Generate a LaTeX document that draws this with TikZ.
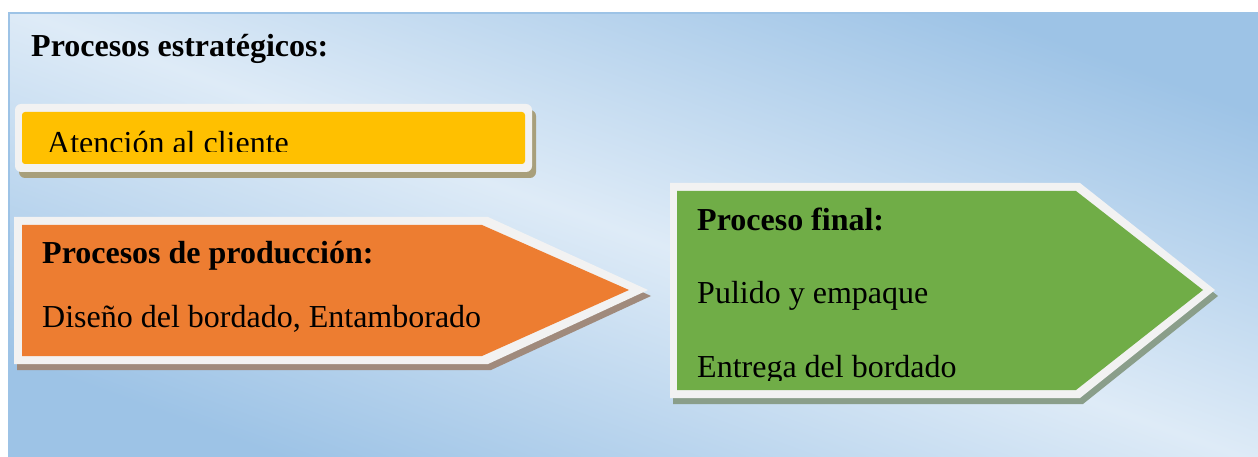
\documentclass[tikz,border=0pt]{standalone}
\usepackage{fontspec}
\setmainfont{Liberation Serif}
\definecolor{bgdark}{HTML}{9DC3E6}
\definecolor{bglight}{HTML}{DEEBF7}
\definecolor{frameclr}{HTML}{F2F2F2}
\definecolor{yel}{HTML}{FFC000}
\definecolor{ora}{HTML}{ED7D31}
\definecolor{gre}{HTML}{70AD47}
\definecolor{shy}{HTML}{A89F7B}
\definecolor{sho}{HTML}{A08A7C}
\definecolor{shg}{HTML}{8A9E8A}
\begin{document}
\begin{tikzpicture}[x=1pt,y=-1pt,
  txt/.style={anchor=base west, inner sep=0pt, font=\fontsize{32}{38}\selectfont},
  hd/.style={anchor=base west, inner sep=0pt, font=\fontsize{32}{38}\selectfont\bfseries}]
\useasboundingbox (0,0) rectangle (1258,457);
\fill[white] (0,0) rectangle (1258,457);
\shade[top color=bgdark, bottom color=bgdark, middle color=bglight, shading angle=-20] (9,13) rectangle (1258,457);
\draw[bgdark, line width=1.5] (9,457) -- (9,13) -- (1258,13);
% title
\node[hd] (title) at (31,57) {Procesos estratégicos:};
% yellow box
\fill[shy, rounded corners=6] (19,110) rectangle (536,178);
\fill[frameclr, rounded corners=6] (15,104) rectangle (532,172);
\fill[yel, rounded corners=3] (22,112) rectangle (525,164);
\begin{scope}
\clip (22,112) rectangle (525,152);
\node[txt] (atc) at (47,154) {Atención al cliente};
\end{scope}
% orange arrow
\fill[sho] (17,223) -- (491,223) -- (651,296) -- (491,370) -- (17,370) -- cycle;
\fill[frameclr] (14,217) -- (488,217) -- (648,290) -- (488,364) -- (14,364) -- cycle;
\fill[ora] (22,225) -- (482,225) -- (629,290) -- (482,356) -- (22,356) -- cycle;
\node[hd] (prodh) at (42,263) {Procesos de producción:};
\node[txt] (prodt) at (42,327) {Diseño del bordado, Entamborado};
% green arrow
\fill[shg] (673,189) -- (1083,189) -- (1218,296) -- (1083,404) -- (673,404) -- cycle;
\fill[frameclr] (670,183) -- (1080,183) -- (1215,290) -- (1080,398) -- (670,398) -- cycle;
\fill[gre] (677,191) -- (1076,191) -- (1203,290) -- (1076,390) -- (677,390) -- cycle;
\node[hd] (finh) at (697,230) {Proceso final:};
\node[txt] (fin1) at (697,303) {Pulido y empaque};
\begin{scope}
\clip (677,191) rectangle (1100,380);
\node[txt] (fin2) at (697,377) {Entrega del bordado};
\end{scope}
\end{tikzpicture}
\end{document}
